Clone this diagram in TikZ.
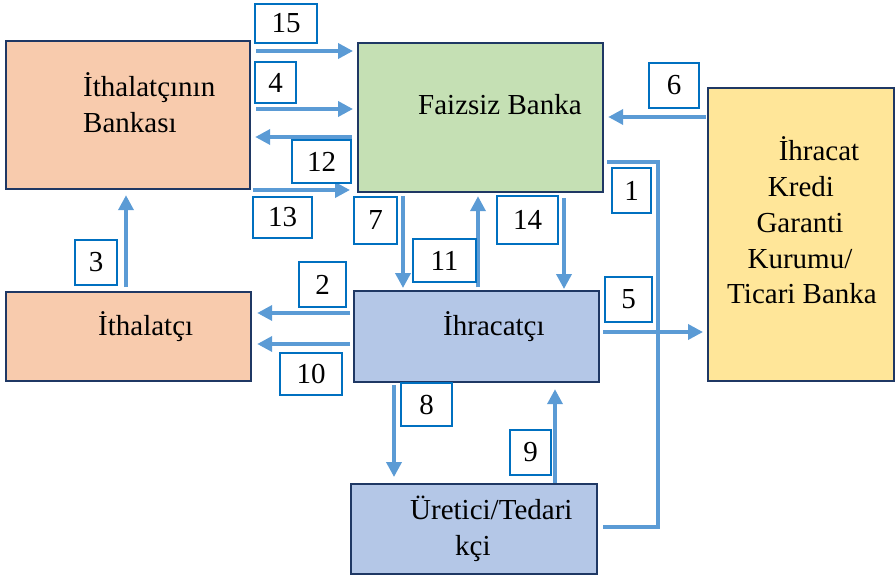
\documentclass[tikz,border=0pt]{standalone}
\usepackage{fontspec}
\setmainfont{Liberation Serif}
\usetikzlibrary{arrows.meta}
\definecolor{peach}{HTML}{F8CBAD}
\definecolor{mint}{HTML}{C5E0B4}
\definecolor{sand}{HTML}{FFE699}
\definecolor{sky}{HTML}{B4C7E7}
\definecolor{navy}{HTML}{1F3864}
\definecolor{flow}{HTML}{5B9BD5}
\definecolor{tagblue}{HTML}{0070C0}
\begin{document}
\begin{tikzpicture}[x=1pt,y=-1pt,
  box/.style={draw=navy, line width=2.2pt, anchor=north west, inner sep=0pt},
  txt/.style={font=\fontsize{29}{34}\selectfont, inner sep=0pt, anchor=base west},
  tag/.style={draw=tagblue, line width=2pt, fill=white, inner sep=0pt,
    font=\fontsize{29}{34}\selectfont},
  arr/.style={draw=flow, line width=3.6pt, -{Triangle[length=15pt,width=15pt]}},
  link/.style={draw=flow, line width=3.6pt}]
\useasboundingbox (0,0) rectangle (896,575);

% boxes
\node[box, fill=peach, minimum width=244pt, minimum height=148pt] (ithb) at (5,40) {};
\node[box, fill=mint,  minimum width=245pt, minimum height=149pt] (faiz) at (357,42) {};
\node[box, fill=sand,  minimum width=186pt, minimum height=293pt] (kredi) at (707,87) {};
\node[box, fill=peach, minimum width=245pt, minimum height=89pt]  (ithc) at (5,291) {};
\node[box, fill=sky,   minimum width=245pt, minimum height=91pt]  (ihr)  at (353,290) {};
\node[box, fill=sky,   minimum width=246pt, minimum height=90pt]  (ure)  at (350,483) {};

% box texts
\node[txt] (ithbA) at (83,97) {İthalatçının};
\node[txt] (ithbB) at (83,132) {Bankası};
\node[txt] (faizT) at (418,115) {Faizsiz Banka};
\node[txt] (ithcT) at (98,335) {İthalatçı};
\node[txt] (ihrT)  at (443,335) {İhracatçı};
\node[txt] (ureA)  at (410,519) {Üretici/Tedari};
\node[txt] (ureB)  at (455,555) {kçi};
\node[txt, anchor=base] (kr1) at (819,160) {İhracat};
\node[txt, anchor=base] (kr2) at (801,196) {Kredi};
\node[txt, anchor=base] (kr3) at (800,232) {Garanti};
\node[txt, anchor=base] (kr4) at (800,268) {Kurumu/};
\node[txt, anchor=base] (kr5) at (802,303) {Ticari Banka};

% flows
\draw[arr, shorten <=5pt, shorten >=4pt] (ithb.east |- 0,51) -- (faiz.west |- 0,51);
\draw[arr, shorten <=5pt, shorten >=4pt] (ithb.east |- 0,109) -- (faiz.west |- 0,109);
\draw[arr, shorten <=5pt, shorten >=4pt] (faiz.west |- 0,137) -- (ithb.east |- 0,137);
\draw[arr, shorten <=2pt, shorten >=7pt] (ithb.east |- 0,190) -- (faiz.west |- 0,190);
\draw[arr, shorten <=1pt, shorten >=4pt] (kredi.west |- 0,117) -- (faiz.east |- 0,117);
\draw[link, shorten <=3pt, shorten >=5pt] (faiz.east |- 0,162) -| (658,527) -- (ure.east |- 0,527);
\draw[arr, shorten <=3pt, shorten >=4pt] (ihr.east |- 0,332) -- (kredi.west |- 0,332);
\draw[arr, shorten <=3pt, shorten >=2pt] (faiz.south -| 403,0) -- (ihr.north -| 403,0);
\draw[arr, shorten <=3pt, shorten >=3pt] (ihr.north -| 478,0) -- (faiz.south -| 478,0);
\draw[arr, shorten <=5pt, shorten >=1pt] (faiz.south -| 564,0) -- (ihr.north -| 564,0);
\draw[arr, shorten <=3pt, shorten >=5pt] (ihr.west |- 0,313) -- (ithc.east |- 0,313);
\draw[arr, shorten <=3pt, shorten >=5pt] (ihr.west |- 0,344) -- (ithc.east |- 0,344);
\draw[arr, shorten <=4pt, shorten >=5pt] (ithc.north -| 126,0) -- (ithb.south -| 126,0);
\draw[arr, shorten <=2pt, shorten >=6pt] (ihr.south -| 394,0) -- (ure.north -| 394,0);
\draw[arr, shorten <=0pt, shorten >=6pt] (ure.north -| 555,0) -- (ihr.south -| 555,0);

% step numbers
\node[tag, minimum width=62pt, minimum height=39pt] (n15) at (286,23.5) {15};
\node[tag, minimum width=41pt, minimum height=41pt] (n4)  at (275.5,82.5) {4};
\node[tag, minimum width=59pt, minimum height=43pt] (n12) at (321.5,161.5) {12};
\node[tag, minimum width=59pt, minimum height=41pt] (n13) at (282.5,217.5) {13};
\node[tag, minimum width=50pt, minimum height=45pt] (n6)  at (674,85.5) {6};
\node[tag, minimum width=39pt, minimum height=45pt] (n1)  at (631.5,190.5) {1};
\node[tag, minimum width=47pt, minimum height=45pt] (n5)  at (628.5,299.5) {5};
\node[tag, minimum width=43pt, minimum height=47pt] (n7)  at (375.5,220.5) {7};
\node[tag, minimum width=63pt, minimum height=43pt] (n11) at (444.5,260.5) {11};
\node[tag, minimum width=61pt, minimum height=48pt] (n14) at (527.5,220) {14};
\node[tag, minimum width=47pt, minimum height=45pt] (n2)  at (322.5,284.5) {2};
\node[tag, minimum width=62pt, minimum height=42pt] (n10) at (311,374) {10};
\node[tag, minimum width=42pt, minimum height=45pt] (n3)  at (96,262.5) {3};
\node[tag, minimum width=51pt, minimum height=43pt] (n8)  at (426.5,404.5) {8};
\node[tag, minimum width=41pt, minimum height=45pt] (n9)  at (530.5,452.5) {9};
\end{tikzpicture}
\end{document}
